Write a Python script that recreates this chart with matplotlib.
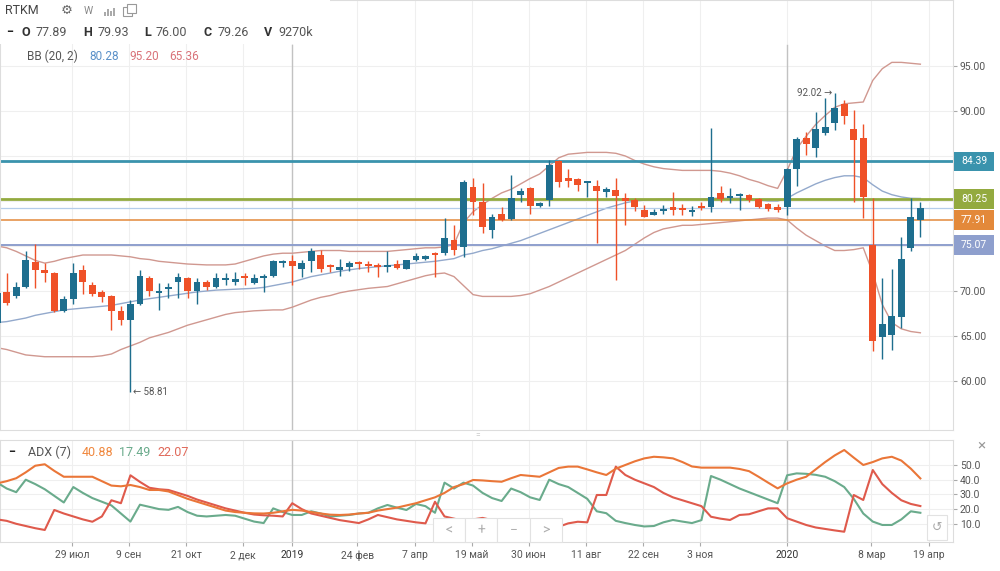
import numpy as np
import pandas as pd
import matplotlib
matplotlib.use('Agg')
import matplotlib.pyplot as plt
import matplotlib.dates as mdates
import matplotlib.transforms as mtrans
from matplotlib.patches import Rectangle

plt.rcParams['font.family'] = ['Roboto', 'DejaVu Sans']

# weekly RTKM candles, first one is the week of 4 Jun 2018
opens = [66.4, 69.9, 69.45, 70.5, 73.2, 72.35, 72.0, 67.8, 69.1, 72.3,
         70.7, 69.9, 69.4, 67.8, 66.8, 68.6, 71.5, 69.8, 70.2, 71.0,
         71.4, 70.0, 71.0, 70.5, 71.2, 71.05, 71.6, 70.9, 71.4, 71.7,
         73.1, 73.3, 72.5, 73.3, 74.0, 72.8, 72.35, 72.7, 73.2, 73.0,
         72.9, 72.7, 73.0, 72.5, 73.45, 73.6, 74.2, 74.2, 75.7, 74.9,
         81.6, 79.9, 76.8, 78.55, 78.0, 80.7, 81.4, 79.45, 80.1, 84.4,
         82.5, 82.4, 82.0, 81.7, 81.0, 81.2, 80.3, 80.1, 79.05, 78.5,
         78.9, 79.3, 79.2, 78.8, 79.45, 79.3, 80.9, 80.3, 80.55, 80.65,
         80.2, 79.65, 79.35, 79.3, 83.5, 87.05, 85.85, 87.6, 88.65, 90.8,
         88.05, 87.0, 75.1, 64.85, 65.1, 67.15, 74.75, 77.89]
highs = [70.0, 72.0, 71.0, 74.4, 75.2, 73.1, 72.1, 69.4, 73.1, 72.9,
         71.0, 70.1, 69.6, 68.3, 69.0, 72.3, 71.7, 70.9, 70.9, 72.0,
         71.6, 71.4, 71.2, 72.0, 72.0, 72.1, 72.0, 71.9, 71.9, 73.4,
         73.4, 74.0, 73.4, 74.8, 74.6, 73.0, 73.6, 73.3, 73.3, 73.3,
         73.1, 74.4, 73.4, 73.5, 74.2, 74.0, 74.3, 78.1, 77.3, 82.3,
         82.6, 82.0, 78.6, 79.3, 82.9, 81.4, 81.6, 79.9, 84.5, 84.5,
         83.6, 82.6, 82.2, 82.3, 81.6, 82.5, 80.9, 80.3, 79.55, 79.1,
         79.55, 81.0, 79.7, 79.45, 79.9, 88.1, 81.7, 81.4, 80.85, 80.8,
         80.3, 79.8, 79.7, 83.7, 87.15, 87.7, 89.9, 91.4, 92.02, 91.2,
         90.1, 88.6, 80.3, 71.4, 72.5, 76.05, 80.3, 79.93]
lows = [66.2, 68.5, 69.2, 70.3, 70.3, 71.0, 67.7, 67.7, 68.6, 69.7,
        69.5, 68.8, 65.7, 66.2, 58.81, 68.4, 69.4, 67.9, 69.2, 69.2,
        69.2, 68.6, 70.1, 70.3, 70.7, 70.7, 70.7, 70.8, 69.9, 71.6,
        72.7, 70.7, 71.6, 72.1, 72.1, 72.1, 71.7, 72.2, 72.4, 72.1,
        71.6, 72.1, 72.5, 72.4, 73.3, 73.4, 71.6, 74.0, 74.0, 73.8,
        78.4, 76.4, 75.85, 77.8, 77.9, 79.9, 78.6, 79.3, 79.4, 81.6,
        81.6, 81.15, 80.4, 75.3, 80.4, 71.2, 77.3, 78.9, 78.2, 78.4,
        78.6, 78.4, 78.4, 78.3, 79.0, 78.8, 79.9, 79.75, 79.0, 79.9,
        79.2, 78.9, 78.75, 78.4, 81.7, 85.1, 84.85, 87.3, 87.9, 88.6,
        79.9, 78.1, 63.3, 62.5, 63.45, 65.85, 74.5, 76.00]
closes = [69.8, 68.7, 70.4, 73.45, 72.3, 72.0, 67.8, 69.1, 72.0, 71.0,
          69.7, 69.3, 67.8, 66.8, 68.6, 71.7, 70.0, 70.0, 70.5, 71.6,
          70.0, 71.0, 70.4, 71.4, 71.4, 71.3, 71.45, 71.5, 71.65, 73.3,
          73.25, 72.8, 73.1, 74.4, 72.5, 72.65, 72.7, 73.1, 73.0, 72.8,
          72.7, 72.9, 72.6, 73.4, 73.9, 73.9, 74.05, 75.85, 74.55, 82.1,
          79.9, 77.15, 78.25, 77.9, 80.3, 81.15, 79.4, 79.75, 84.0, 82.1,
          82.2, 81.8, 82.15, 81.1, 81.3, 80.55, 80.05, 79.3, 78.25, 78.8,
          79.1, 79.05, 79.0, 79.0, 79.25, 80.5, 80.2, 80.55, 80.8, 80.1,
          79.3, 79.1, 78.95, 83.6, 86.85, 86.35, 88.05, 88.25, 90.3, 89.4,
          86.8, 80.4, 64.4, 66.35, 67.2, 73.55, 78.2, 79.26]

# Bollinger bands (20, 2)
bb_upper = [75.0, 74.8, 74.4, 73.9, 73.4, 73.1, 73.3, 73.6, 73.8, 74.0,
            74.0, 74.0, 74.0, 73.9, 73.8, 73.6, 73.5, 73.3, 73.2, 73.1,
            73.0, 72.95, 72.9, 72.9, 72.9, 73.0, 73.3, 73.6, 73.9, 74.1,
            74.2, 74.2, 74.3, 74.4, 74.5, 74.5, 74.5, 74.4, 74.4, 74.4,
            74.4, 74.4, 74.5, 74.6, 74.7, 74.8, 74.8, 74.9, 75.2, 77.6,
            78.8, 79.6, 80.3, 80.9, 81.3, 81.9, 82.5, 83.0, 83.9, 84.8,
            85.2, 85.3, 85.4, 85.4, 85.4, 85.3, 85.0, 84.5, 84.1, 83.8,
            83.6, 83.5, 83.4, 83.4, 83.4, 83.4, 83.3, 83.1, 82.8, 82.4,
            82.1, 81.7, 81.4, 83.4, 85.8, 87.2, 88.5, 89.5, 90.4, 90.8,
            90.9, 91.0, 93.4, 94.7, 95.4, 95.4, 95.3, 95.2]
bb_mid = [66.5, 66.6, 66.8, 67.0, 67.3, 67.5, 67.7, 67.9, 68.0, 68.1,
          68.2, 68.3, 68.4, 68.6, 68.8, 69.0, 69.15, 69.3, 69.45, 69.6,
          69.75, 69.9, 70.0, 70.1, 70.15, 70.2, 70.25, 70.3, 70.4, 70.6,
          70.8, 71.0, 71.3, 71.6, 71.8, 72.0, 72.2, 72.35, 72.5, 72.6,
          72.7, 72.8, 72.9, 73.0, 73.1, 73.2, 73.3, 73.45, 73.6, 74.0,
          74.2, 74.5, 74.7, 75.0, 75.3, 75.6, 76.0, 76.4, 76.8, 77.2,
          77.6, 78.0, 78.4, 78.8, 79.2, 79.5, 79.8, 80.0, 80.1, 80.15,
          80.2, 80.2, 80.2, 80.2, 80.2, 80.3, 80.3, 80.3, 80.3, 80.2,
          80.1, 80.0, 80.0, 80.3, 80.9, 81.4, 81.9, 82.3, 82.6, 82.8,
          82.8, 82.6, 81.8, 81.1, 80.7, 80.45, 80.3, 80.28]
bb_lower = [63.7, 63.5, 63.2, 62.9, 62.8, 62.7, 62.7, 62.7, 62.7, 62.7,
            62.7, 62.8, 63.0, 63.5, 63.9, 64.3, 64.8, 65.1, 65.4, 65.8,
            66.2, 66.5, 66.8, 67.1, 67.4, 67.6, 67.7, 67.8, 67.85, 67.9,
            67.9, 68.2, 68.6, 69.0, 69.3, 69.5, 69.8, 70.0, 70.15, 70.3,
            70.4, 70.5, 70.8, 71.1, 71.4, 71.7, 71.9, 72.0, 71.6, 70.6,
            69.6, 69.4, 69.4, 69.4, 69.4, 69.5, 69.7, 70.1, 70.5, 71.0,
            71.5, 72.0, 72.5, 73.0, 73.5, 74.0, 74.5, 75.2, 75.9, 76.5,
            76.9, 77.1, 77.3, 77.3, 77.4, 77.5, 77.6, 77.7, 77.8, 77.9,
            78.0, 78.1, 78.1, 77.9, 77.0, 76.2, 75.6, 75.0, 74.5, 74.5,
            74.6, 74.8, 72.0, 68.5, 66.5, 65.8, 65.5, 65.36]

# ADX (7) panel
adx = [37.5, 39, 41, 45, 49.5, 50.5, 46, 42, 42, 42,
       42, 39, 36, 35.5, 36.4, 35, 33, 33, 32, 29.5,
       27, 25, 23, 21, 19, 18, 17.5, 17.1, 17, 17.5,
       18.5, 19.5, 19, 18, 17, 16.2, 16, 16.3, 17, 17.5,
       19, 20, 21, 22.5, 24, 26, 28, 31, 35, 37,
       39.8, 39.5, 39, 38.6, 41, 43.2, 42.6, 42, 45, 48,
       48.9, 48.9, 47, 45, 43.2, 47.5, 50, 52.5, 54.5, 55.6,
       55.2, 54.5, 52, 49, 48.2, 48.2, 48.2, 48.2, 47.3, 45.8,
       42, 38, 34.1, 37.5, 40, 42, 47, 52, 56.5, 60.2,
       55, 50, 52, 54.5, 55.6, 53, 47.5, 40.88]
plus_di = [38, 34, 31.5, 40, 37, 33.5, 29, 24.5, 35, 31,
           27.5, 25, 22.5, 17, 11.5, 23, 21.5, 20, 19.5, 21.5,
           18, 15.5, 15, 15.5, 16, 15.5, 13.5, 11.5, 10.5, 20.5,
           18, 16, 16, 18.5, 17, 15, 15.5, 16, 17, 17.5,
           20.5, 22.8, 21, 19.4, 23.5, 22, 17.5, 38, 34, 38,
           36, 31, 27.5, 25.5, 34, 31.5, 28, 26.2, 40, 37,
           35, 31, 27, 18.5, 17.2, 12, 10.5, 9.2, 8.2, 8.5,
           11, 12.6, 11.5, 10.5, 12.5, 42.5, 40, 37, 34, 31.5,
           29, 26.5, 24, 43, 44.3, 44, 43.3, 42, 39, 35,
           27, 17, 11.5, 9.2, 9.2, 13, 18.5, 17.49]
minus_di = [13, 12, 10, 8.5, 7, 5.8, 19.4, 17, 15, 13,
            11.4, 15, 26, 24, 43, 38.5, 34.5, 33.5, 33, 31,
            29, 26.5, 24.5, 22.5, 20.5, 19, 17.5, 16.3, 15.8, 15.5,
            15, 24, 20, 17, 15.5, 14, 12.5, 11.5, 10.5, 13,
            16, 14.5, 13, 12, 11, 10.3, 25, 15, 13.5, 12,
            13, 14, 12.5, 12, 10.5, 10, 11, 10, 9, 8,
            10.3, 11.4, 11, 29.6, 29.6, 48.9, 43.2, 40, 37.5, 35,
            31, 28, 26, 24, 22, 14.8, 13.5, 12.6, 16, 16.5,
            18.5, 20.5, 20.5, 13.8, 11.5, 9.2, 7.5, 6.5, 5.5, 4.6,
            29.6, 26.2, 46.6, 37, 31, 26, 23.5, 22.07]

levels = [84.39, 80.25, 77.91, 75.07]
level_colors = ['#3a93ad', '#93aa3f', '#e3893a', '#8e9fcd']
level_widths = [2.0, 2.0, 1.1, 1.4]
last_close = 79.26

tick_dates = ['2018-07-29', '2018-09-09', '2018-10-21', '2018-12-02', '2019-01-07',
              '2019-02-24', '2019-04-07', '2019-05-19', '2019-06-30', '2019-08-11',
              '2019-09-22', '2019-11-03', '2020-01-06', '2020-03-08', '2020-04-19']
tick_labels = ['29 июл', '9 сен', '21 окт', '2 дек', '2019', '24 фев', '7 апр',
               '19 май', '30 июн', '11 авг', '22 сен', '3 ноя', '2020', '8 мар', '19 апр']
year_lines = ['2019-01-07', '2020-01-06']

UP = '#1e6e8e'
DOWN = '#ef5128'
GRID = '#efefef'
TXT = '#555555'

dates = pd.date_range('2018-06-04', periods=len(closes), freq='7D')
x = mdates.date2num(dates)
o = np.array(opens); c = np.array(closes)
h = np.array(highs); l = np.array(lows)
col = np.where(c >= o, UP, DOWN)

W, H = 1000, 571
def fx(px):
    return px / W
def fy(py):
    return 1 - py / H

fig = plt.figure(figsize=(10, 5.71), dpi=100)
ax = fig.add_axes([0, fy(430), fx(953), 430 / H])
ax2 = fig.add_axes([0, fy(542), fx(953), 102 / H], sharex=ax)

xt = mdates.date2num(pd.to_datetime(tick_dates))

# --- main panel ---
ax.plot(x, bb_upper, color='#d09890', lw=1, zorder=2)
ax.plot(x, bb_lower, color='#d09890', lw=1, zorder=2)
ax.plot(x, bb_mid, color='#93a9cc', lw=1, zorder=2)
for v, cc, lw in zip(levels, level_colors, level_widths):
    ax.axhline(v, color=cc, lw=lw, zorder=2.5)
ax.axhline(last_close, color='#b5cdea', lw=0.9, zorder=2.4)
for d in year_lines:
    ax.axvline(mdates.date2num(pd.Timestamp(d)), ymax=0.895, color='#c2c2c2', lw=1, zorder=1.5)

ax.vlines(x, l, h, colors=col, lw=1, zorder=3)
ax.bar(x, np.maximum(np.abs(c - o), 0.2), bottom=np.minimum(o, c), width=5,
       color=col, linewidth=0, zorder=4)

ax.annotate('← 58.81', xy=(x[14], 58.81), xytext=(2, 0), textcoords='offset points',
            ha='left', va='center', fontsize=7, color=TXT)
ax.annotate('92.02 →', xy=(x[88], 92.02), xytext=(-2, 0), textcoords='offset points',
            ha='right', va='center', fontsize=7, color=TXT)

ax.set_ylim(54.56, 102.33)
ax.set_xlim(x[1] - 4.93, x[-1] + 24.0)
yt = np.arange(60, 100, 5)
ax.set_yticks(yt)
# 75 / 80 / 85 sit under the level boxes, so their labels stay empty
ax.set_yticklabels(['' if v in (75, 80, 85) else '%.2f' % v for v in yt])
ax.yaxis.tick_right()
ax.tick_params(axis='y', length=3, pad=2, labelsize=7.5, labelcolor=TXT, color='#aaaaaa')
ax.set_xticks(xt)
ax.tick_params(axis='x', length=0, labelbottom=False)
ax.grid(color=GRID, lw=0.8, zorder=0)
ax.set_axisbelow(True)
for s in ax.spines.values():
    s.set_color('#dddddd')

trans = mtrans.blended_transform_factory(ax.transAxes, ax.transData)
for v, cc in zip(levels, level_colors):
    ax.add_patch(Rectangle((1.001, v - 1.1), 0.042, 2.2, transform=trans,
                           facecolor=cc, edgecolor='none', clip_on=False, zorder=6))
    ax.text(1.022, v, '%.2f' % v, transform=trans, ha='center', va='center',
            fontsize=7.5, color='white', zorder=7, clip_on=False)

# --- ADX panel ---
ax2.plot(x, plus_di, color='#6aab8c', lw=1.5, zorder=3)
ax2.plot(x, minus_di, color='#df5a4c', lw=1.5, zorder=3)
ax2.plot(x, adx, color='#ea7638', lw=1.5, zorder=3)
for d in year_lines:
    ax2.axvline(mdates.date2num(pd.Timestamp(d)), color='#c2c2c2', lw=1, zorder=1.5)
ax2.set_ylim(-2.38, 67)
ax2.set_yticks([10, 20, 30, 40, 50])
ax2.yaxis.set_major_formatter(plt.FormatStrFormatter('%.1f'))
ax2.yaxis.tick_right()
ax2.tick_params(axis='y', length=3, pad=2, labelsize=7.5, labelcolor=TXT, color='#aaaaaa')
ax2.set_xticks(xt)
ax2.set_xticklabels(tick_labels)
ax2.tick_params(axis='x', length=3, pad=3, labelsize=7.5, labelcolor=TXT, color='#aaaaaa')
for lab in ax2.get_xticklabels():
    if lab.get_text() in ('2019', '2020'):
        lab.set_color('#333333')
ax2.grid(color=GRID, lw=0.8, zorder=0)
ax2.set_axisbelow(True)
for s in ax2.spines.values():
    s.set_color('#dddddd')

# --- header texts ---
def put(px, py, s, **kw):
    kw.setdefault('fontsize', 9)
    kw.setdefault('color', TXT)
    fig.text(fx(px), fy(py), s, va='center', ha='left', **kw)

fig.patches.append(Rectangle((0, fy(44)), fx(330), 44 / H, transform=fig.transFigure,
                             facecolor='white', edgecolor='none', zorder=1))
put(5, 10, 'RTKM', fontsize=9, color='#444444')
put(61, 10, '⚙', fontsize=9.5, color='#666666')
put(84, 11, 'W', fontsize=7.5, color='#888888')
for bx, bh in [(104, 4), (107, 7), (110, 5), (113, 8)]:
    fig.patches.append(Rectangle((fx(bx), fy(16)), fx(2), bh / H, transform=fig.transFigure,
                                 facecolor='#aaaaaa', edgecolor='none', zorder=2))
fig.patches.append(Rectangle((fx(123), fy(16)), fx(9), 9 / H, transform=fig.transFigure,
                             facecolor='none', edgecolor='#999999', lw=0.8, zorder=2))
fig.patches.append(Rectangle((fx(127), fy(13)), fx(9), 9 / H, transform=fig.transFigure,
                             facecolor='white', edgecolor='#999999', lw=0.8, zorder=2))

put(6, 33, '−', color='#222222', fontweight='bold')
for px, s, bold in [(22, 'O', True), (36, '77.89', False), (83, 'H', True), (97, '79.93', False),
                    (144, 'L', True), (156, '76.00', False), (203, 'C', True), (217, '79.26', False),
                    (264, 'V', True), (278, '9270k', False)]:
    put(px, 33, s, color='#333333' if bold else TXT,
        fontweight='bold' if bold else 'normal')

put(27, 56, 'BB (20, 2)', fontsize=8.5)
put(89, 56, '80.28', fontsize=8.5, color='#5a90c8')
put(129, 56, '95.20', fontsize=8.5, color='#d9737a')
put(169, 56, '65.36', fontsize=8.5, color='#d9737a')

put(8, 452, '−', color='#222222', fontweight='bold')
put(28, 452, 'ADX (7)')
put(82, 452, '40.88', color='#f0883e')
put(119, 452, '17.49', color='#6aab8c')
put(157, 452, '22.07', color='#e0695a')

put(977, 445, '×', fontsize=11, color='#999999')
fig.text(fx(478), fy(435), '=', fontsize=6, color='#bbbbbb', ha='center', va='center')

# navigation buttons over the ADX panel
for bx0, bx1, s in [(433, 465, '<'), (465, 497, '+'), (497, 530, '−'), (530, 562, '>')]:
    fig.patches.append(Rectangle((fx(bx0), fy(542)), fx(bx1 - bx0), 24 / H, transform=fig.transFigure,
                                 facecolor='white', edgecolor='#e2e2e2', lw=0.8, zorder=5))
    fig.text(fx((bx0 + bx1) / 2), fy(530), s, fontsize=10, color='#b0b0b0',
             ha='center', va='center', zorder=6)
fig.patches.append(Rectangle((fx(927), fy(540)), fx(20), 25 / H, transform=fig.transFigure,
                             facecolor='white', edgecolor='#e2e2e2', lw=0.8, zorder=5))
fig.text(fx(937), fy(527), '↺', fontsize=9, color='#aaaaaa', ha='center', va='center', zorder=6)

fig.savefig('out.png', dpi=100)
